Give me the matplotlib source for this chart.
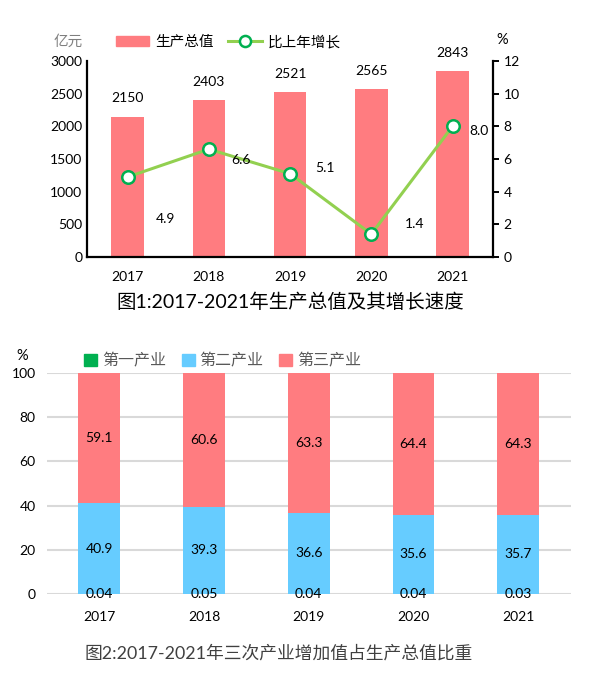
import numpy as np
import matplotlib.pyplot as plt
from matplotlib.patches import Patch
from matplotlib.lines import Line2D

plt.rcParams['font.family'] = ['Lato', 'Noto Sans CJK SC', 'DejaVu Sans']

years = ['2017', '2018', '2019', '2020', '2021']
gdp = [2150, 2403, 2521, 2565, 2843]
growth = [4.9, 6.6, 5.1, 1.4, 8.0]

primary = [0.04, 0.05, 0.04, 0.04, 0.03]
secondary = [40.9, 39.3, 36.6, 35.6, 35.7]
tertiary = [59.1, 60.6, 63.3, 64.4, 64.3]

red = '#FF7C80'
lgreen = '#92D050'
dgreen = '#00B050'
blue = '#66CCFF'

fig = plt.figure(figsize=(5.92, 6.78), dpi=100)
x = np.arange(len(years))

# ---- Chart 1: GDP and growth
ax1 = fig.add_axes([0.147, 0.621, 0.686, 0.289])
ax1.bar(x, gdp, width=0.4, color=red, zorder=2)
for i, v in enumerate(gdp):
    ax1.annotate(str(v), (x[i], v), xytext=(0, 9), textcoords='offset points',
                 ha='center', va='bottom', fontsize=10)
ax1.set_xlim(-0.5, 4.5)
ax1.set_ylim(0, 3000)
ax1.set_yticks(range(0, 3001, 500))
ax1.set_xticks(x)
ax1.set_xticklabels(years)
ax1.tick_params(axis='both', labelsize=10, length=0)
ax1.tick_params(axis='x', pad=10)
for s in ['top', 'right']:
    ax1.spines[s].set_visible(False)
ax1.spines['left'].set_linewidth(1.6)
ax1.spines['bottom'].set_linewidth(1.6)

ax2 = ax1.twinx()
ax2.plot(x, growth, color=lgreen, lw=2.2, marker='o', markersize=9,
         markerfacecolor='white', markeredgecolor=dgreen, markeredgewidth=1.8, zorder=3)
offsets = [(27, -30), (23, -8), (25, 4), (31, 7), (19, -3)]
for i, v in enumerate(growth):
    ax2.annotate(f'{v:.1f}', (x[i], v), xytext=offsets[i], textcoords='offset points',
                 ha='center', va='center', fontsize=10)
ax2.set_ylim(0, 12)
ax2.set_yticks(range(0, 13, 2))
ax2.tick_params(axis='y', labelsize=10, length=4, width=1.4, direction='out')
for s in ['top', 'left']:
    ax2.spines[s].set_visible(False)
ax2.spines['right'].set_linewidth(1.6)
ax2.spines['bottom'].set_visible(False)

fig.text(68 / 592, 1 - 42 / 678, '亿元', fontsize=10.5, color='#7F7F7F', ha='center', va='center')
fig.text(502 / 592, 1 - 40 / 678, '%', fontsize=10.5, ha='center', va='center')
h1 = [Patch(color=red), Line2D([], [], color=lgreen, lw=2.2, marker='o', markersize=8,
                               markerfacecolor='white', markeredgecolor=dgreen, markeredgewidth=1.8)]
fig.legend(h1, ['生产总值', '比上年增长'], loc='center left', bbox_to_anchor=(110 / 592, 1 - 42 / 678),
           ncol=2, frameon=False, fontsize=10.5, handlelength=2.3, handletextpad=0.4,
           columnspacing=1.0, borderaxespad=0)
fig.text(290 / 592, 1 - 302 / 678, '图1:2017-2021年生产总值及其增长速度', fontsize=14,
         ha='center', va='center')

# ---- Chart 2: structure
ax3 = fig.add_axes([0.079, 0.124, 0.885, 0.326])
bw = 0.4
ax3.bar(x, primary, width=bw, color=dgreen, zorder=2)
ax3.bar(x, secondary, width=bw, bottom=primary, color=blue, zorder=2)
bottom3 = np.array(primary) + np.array(secondary)
ax3.bar(x, tertiary, width=bw, bottom=bottom3, color=red, zorder=2)
for i in range(len(years)):
    ax3.text(x[i], primary[i], f'{primary[i]:.2f}', ha='center', va='center', fontsize=10, zorder=4)
    ax3.text(x[i], primary[i] + secondary[i] / 2, f'{secondary[i]:.1f}', ha='center', va='center', fontsize=10)
    ax3.text(x[i], bottom3[i] + tertiary[i] / 2, f'{tertiary[i]:.1f}', ha='center', va='center', fontsize=10)
ax3.set_xlim(-0.5, 4.5)
ax3.set_ylim(0, 100)
ax3.set_yticks(range(0, 101, 20))
ax3.set_xticks(x)
ax3.set_xticklabels(years)
ax3.yaxis.grid(True, color='#D9D9D9', lw=1.5, zorder=0)
ax3.set_axisbelow(True)
ax3.tick_params(axis='both', labelsize=10, length=0)
ax3.tick_params(axis='y', pad=8)
ax3.tick_params(axis='x', pad=12)
for s in ax3.spines.values():
    s.set_visible(False)

fig.text(22 / 592, 1 - 356 / 678, '%', fontsize=10.5, ha='center', va='center')
h2 = [Patch(color=dgreen), Patch(color=blue), Patch(color=red)]
fig.legend(h2, ['第一产业', '第二产业', '第三产业'], loc='center left',
           bbox_to_anchor=(78 / 592, 1 - 361 / 678), ncol=3, frameon=False, fontsize=11.5,
           handlelength=0.8, handleheight=0.8, handletextpad=0.3, columnspacing=1.0,
           borderaxespad=0, labelcolor='#595959')
fig.text(279 / 592, 1 - 653 / 678, '图2:2017-2021年三次产业增加值占生产总值比重', fontsize=12.8,
         color='#404040', ha='center', va='center')

fig.savefig('out.png', dpi=100)
